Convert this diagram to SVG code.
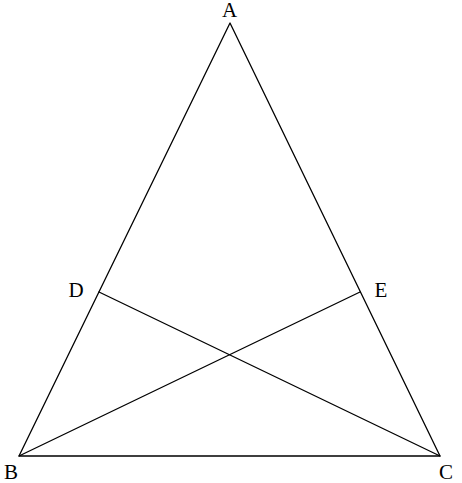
<svg xmlns="http://www.w3.org/2000/svg" width="462" height="483" viewBox="0 0 462 483">
<style>
.e{stroke:#000;stroke-width:1.3;fill:none;stroke-linecap:round;stroke-linejoin:round}
.l{font-family:"Liberation Serif","DejaVu Serif",serif;font-size:21px;fill:#000;text-anchor:middle}
</style>
<rect width="462" height="483" fill="#fff"/>
<g id="connectors">
<path class="e" d="M230 23 L19 456 L440 456 Z"/>
<line class="e" x1="99" y1="292" x2="440" y2="456"/>
<line class="e" x1="360" y1="292" x2="19" y2="456"/>
</g>
<g id="A"><text class="l" x="229.5" y="17">A</text></g>
<g id="B"><text class="l" x="11" y="479">B</text></g>
<g id="C"><text class="l" x="446" y="479">C</text></g>
<g id="D"><text class="l" x="76" y="297">D</text></g>
<g id="E"><text class="l" x="381" y="297">E</text></g>
</svg>
